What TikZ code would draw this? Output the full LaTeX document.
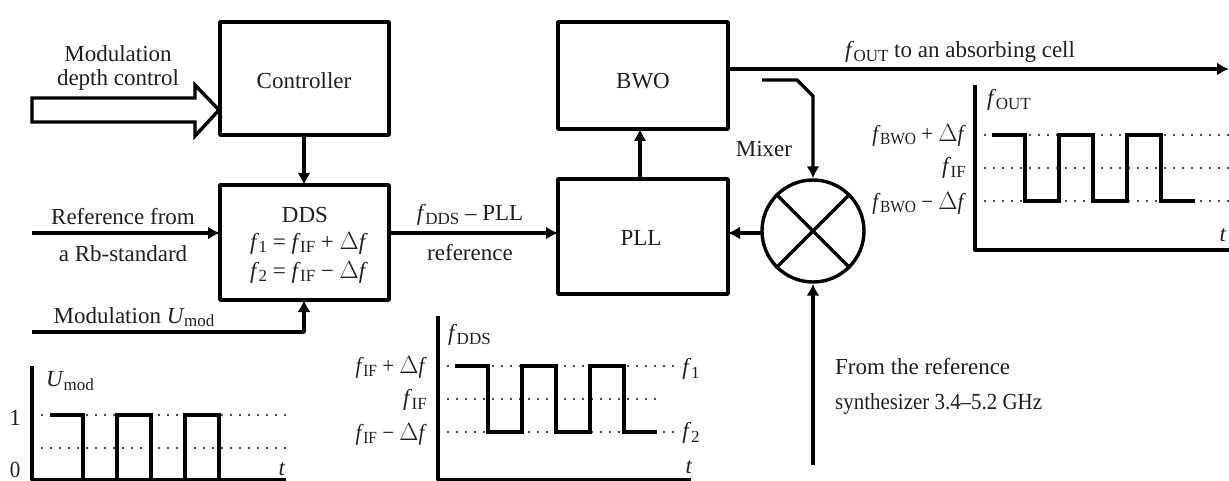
\documentclass[tikz,border=0pt]{standalone}
\usepackage{fontspec}
\setmainfont{Liberation Serif}
\newfontfamily\narrowfont[FakeStretch=0.91]{Liberation Serif}
\usetikzlibrary{arrows.meta}
\newcommand{\sbs}[1]{\kern-0.5pt\raisebox{-3.4pt}{\fontsize{17}{19}\selectfont #1}}
\newcommand{\ff}{\textit{f}}
\newcommand{\DD}{\ensuremath{\Delta}\textit{f}}
\tikzset{
  x=1pt,y=-1pt,
  blockbox/.style={draw,line width=3.4pt,inner sep=0pt,line join=round},
  arrowwire/.style={line width=3.4pt,line join=round,-{Latex[length=12pt,width=13pt]}},
  axisline/.style={line width=3.4pt,line join=round},
  guide/.style={line width=1.5pt,dash pattern=on 1.6pt off 7.4pt,black!70},
  wave/.style={line width=3.4pt,line join=miter},
  txt/.style={font=\fontsize{23}{28}\selectfont,inner sep=0pt,text=black!88},
  txtb/.style={font=\fontsize{23}{28}\selectfont\narrowfont,inner sep=0pt,text=black!88},
}
\begin{document}
\begin{tikzpicture}
\useasboundingbox (0,0) rectangle (1229,481);
% blocks
\draw[blockbox] (220,22) rectangle (389,135);
\node[txt] (ctrl) at (304,81) {Controller};
\coordinate (ctrlB) at (304,135);
\draw[blockbox] (220,185) rectangle (389,300);
\node[txt] (dds) at (305,215) {DDS};
\node[txt] (ddsa) at (309,243) {\ff\sbs{1} = \ff\sbs{IF} + \DD};
\node[txt] (ddsb) at (309,272) {\ff\sbs{2} = \ff\sbs{IF} − \DD};
\coordinate (ddsT) at (304,185);
\coordinate (ddsL) at (220,233);
\coordinate (ddsR) at (389,233);
\coordinate (ddsB) at (304,300);
\draw[blockbox] (558,22) rectangle (728,129);
\node[txt] (bwo) at (643,81) {BWO};
\coordinate (bwoB) at (640,129);
\coordinate (bwoR) at (728,69);
\draw[blockbox] (558,179) rectangle (728,294);
\node[txt] (pll) at (641,238) {PLL};
\coordinate (pllT) at (640,179);
\coordinate (pllL) at (558,233);
\coordinate (pllR) at (728,233);
% mixer
\node[draw,circle,line width=3.4pt,minimum size=102pt,inner sep=0pt] (mix) at (813,231) {};
\draw[line width=3.4pt] (mix.45) -- (mix.225) (mix.135) -- (mix.315);
\coordinate (mixL) at (762,233);
% hollow arrow
\draw[line width=3.4pt,line join=miter] (32,98) -- (195,98) -- (195,85) -- (219,110) -- (195,136) -- (195,122) -- (32,122) -- cycle;
% connectors
\draw[arrowwire] (ctrlB) -- (ddsT);
\coordinate (refS) at (32,233);
\draw[arrowwire] (refS) -- (ddsL);
\coordinate (modS) at (32,332);
\draw[arrowwire] (modS) -- (304,332) -- (ddsB);
\draw[arrowwire] (ddsR) -- (pllL);
\draw[arrowwire] (pllT) -- (bwoB);
\coordinate (outE) at (1229,69);
\draw[arrowwire] (bwoR) -- (outE);
\coordinate (mixS) at (762,80);
\draw[arrowwire] (mixS) -- (797,80) -- (813,96) -- (mix.north);
\coordinate (synS) at (813,465);
\draw[arrowwire] (synS) -- (mix.south);
\draw[arrowwire] (mixL) -- (pllR);
% labels
\node[txt,align=center,font=\fontsize{23}{24}\selectfont] (mdc) at (118,68) {Modulation\\depth control};
\node[txt] (reflab) at (123,217) {Reference from};
\node[txt] (rb) at (123,254) {a Rb-standard};
\node[txt] (modlab) at (134,317) {Modulation \textit{U}\sbs{mod}};
\node[txt] (fdp) at (470,215) {\ff\sbs{DDS} – PLL};
\node[txt] (refl) at (470,253) {reference};
\node[txt] (foutl) at (960,52) {\ff\sbs{OUT} to an absorbing cell};
\node[txt] (mixl) at (764,149) {Mixer};
\node[txt,anchor=west] (syn1) at (835,367) {From the reference};
\node[txtb,anchor=west] (syn2) at (835,404) {synthesizer 3.4–5.2 GHz};
% graph U
\draw[guide] (32,415) -- (286,415) (32,448) -- (286,448);
\draw[axisline] (32,366) -- (32,480) -- (286,480);
\draw[wave] (50,415) -- (83,415) -- (83,480) -- (117,480) -- (117,415) -- (151,415) -- (151,480) -- (185,480) -- (185,415) -- (219,415) -- (219,480);
\node[txt] (u) at (70,381) {\textit{U}\sbs{mod}};
\node[txt] (one) at (15,418) {1};
\node[txtb] (zero) at (15,470) {0};
\node[txt] (t1) at (282,469) {\textit{t}};
% graph DDS
\draw[guide] (438,366) -- (674,366) (438,399) -- (657,399) (438,432) -- (674,432);
\draw[axisline] (438,316) -- (438,480) -- (691,480);
\draw[wave] (455,366) -- (488,366) -- (488,432) -- (522,432) -- (522,366) -- (556,366) -- (556,432) -- (590,432) -- (590,366) -- (624,366) -- (624,432) -- (657,432);
\node[txt,anchor=west] (fd) at (448,335) {\ff\sbs{DDS}};
\node[txtb,anchor=east] (a1) at (427,367) {\ff\sbs{IF} + \DD};
\node[txt,anchor=east] (a2) at (427,400) {\ff\sbs{IF}};
\node[txtb,anchor=east] (a3) at (427,434) {\ff\sbs{IF} − \DD};
\node[txt] (f1) at (691,369) {\ff\sbs{1}};
\node[txt] (f2) at (691,433) {\ff\sbs{2}};
\node[txt] (t2) at (689,467) {\textit{t}};
% graph OUT
\draw[guide] (975,135) -- (1229,135) (975,168) -- (1229,168) (975,201) -- (1229,201);
\draw[axisline] (975,85) -- (975,250) -- (1229,250);
\draw[wave] (992,135) -- (1025,135) -- (1025,201) -- (1059,201) -- (1059,135) -- (1093,135) -- (1093,201) -- (1127,201) -- (1127,135) -- (1161,135) -- (1161,201) -- (1195,201);
\node[txt,anchor=west] (fo) at (987,100) {\ff\sbs{OUT}};
\node[txtb,anchor=east] (b1) at (966,135) {\ff\sbs{BWO} + \DD};
\node[txt,anchor=east] (b2) at (966,168) {\ff\sbs{IF}};
\node[txtb,anchor=east] (b3) at (966,203) {\ff\sbs{BWO} − \DD};
\node[txt] (t3) at (1223,235) {\textit{t}};
\end{tikzpicture}
\end{document}
